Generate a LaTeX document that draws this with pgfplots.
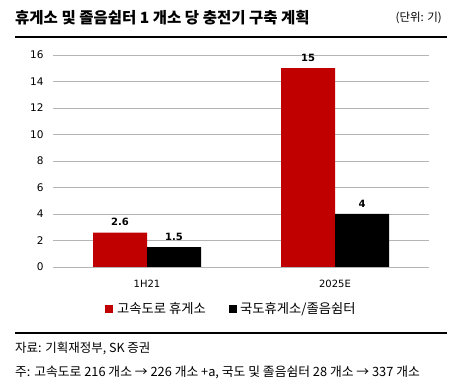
\documentclass[border=0pt]{standalone}
\usepackage{fontspec}
\setmainfont{Noto Sans CJK KR}
\newfontfamily\numfont{DejaVu Sans}
\usepackage{pgfplots}
\pgfplotsset{compat=1.18}
\definecolor{bred}{HTML}{C00000}
\definecolor{gridg}{HTML}{B4B4B4}
\begin{document}
\begin{tikzpicture}
\useasboundingbox (0pt,0pt) rectangle (464pt,387pt);
% title
\node[anchor=west,font=\fontsize{15.5}{17}\selectfont\bfseries,inner sep=0] at (15pt,369pt) {휴게소 및 졸음쉼터 1 개소 당 충전기 구축 계획};
\node[anchor=east,font=\fontsize{11.5}{13}\selectfont,inner sep=0] at (442pt,369pt) {(단위: 기)};
\draw[line width=1.6pt] (15pt,350pt) -- (447pt,350pt);
\begin{axis}[
  at={(53pt,120pt)}, anchor=south west,
  scale only axis, width=376pt, height=212pt,
  xmin=-0.5, xmax=1.5, ymin=0, ymax=16,
  ytick={0,2,...,16},
  xtick={0,1}, xticklabels={1H21,2025E},
  extra x ticks={-0.5,0.5,1.5}, extra x tick labels={},
  extra x tick style={major tick length=4pt, tick style={gridg,line width=0.8pt}, grid=none},
  x tick style={draw=none},
  ymajorgrids, grid style={gridg, line width=0.8pt},
  axis x line*=bottom, axis y line*=left,
  y axis line style={draw=none},
  x axis line style={gridg, line width=0.8pt, -},
  ytick style={draw=none},
  /pgf/number format/assume math mode=true,
  tick label style={font=\numfont\fontsize{10.5}{12}\selectfont},
  yticklabel style={xshift=-6pt},
  ybar, bar width=54pt,
  nodes near coords, every node near coord/.append style={font=\numfont\fontsize{10}{12}\selectfont\bfseries, yshift=3pt},
  xticklabel style={yshift=-5pt, font=\numfont\fontsize{10}{12}\selectfont},
  clip=false,
]
\addplot[fill=bred, draw=none, bar shift=-27pt] coordinates {(0,2.6) (1,15)};
\addplot[fill=black, draw=none, bar shift=27pt] coordinates {(0,1.5) (1,4)};
\end{axis}
% legend
\fill[bred] (105pt,74pt) rectangle (113pt,82pt);
\node[anchor=west,font=\fontsize{13.3}{15}\selectfont,inner sep=0] at (117pt,78pt) {고속도로 휴게소};
\fill[black] (229pt,74pt) rectangle (237pt,82pt);
\node[anchor=west,font=\fontsize{13.3}{15}\selectfont,inner sep=0] at (240pt,78pt) {국도휴게소/졸음쉼터};
% bottom
\draw[line width=1.2pt] (15pt,54pt) -- (447pt,54pt);
\node[anchor=west,font=\fontsize{12.5}{14}\selectfont,inner sep=0] at (15pt,39pt) {자료: 기획재정부, SK 증권};
\node[anchor=west,font=\fontsize{12.8}{14}\selectfont,inner sep=0] at (15pt,15pt) {주: 고속도로 216 개소 → 226 개소 +a, 국도 및 졸음쉼터 28 개소 → 337 개소};
\end{tikzpicture}
\end{document}
